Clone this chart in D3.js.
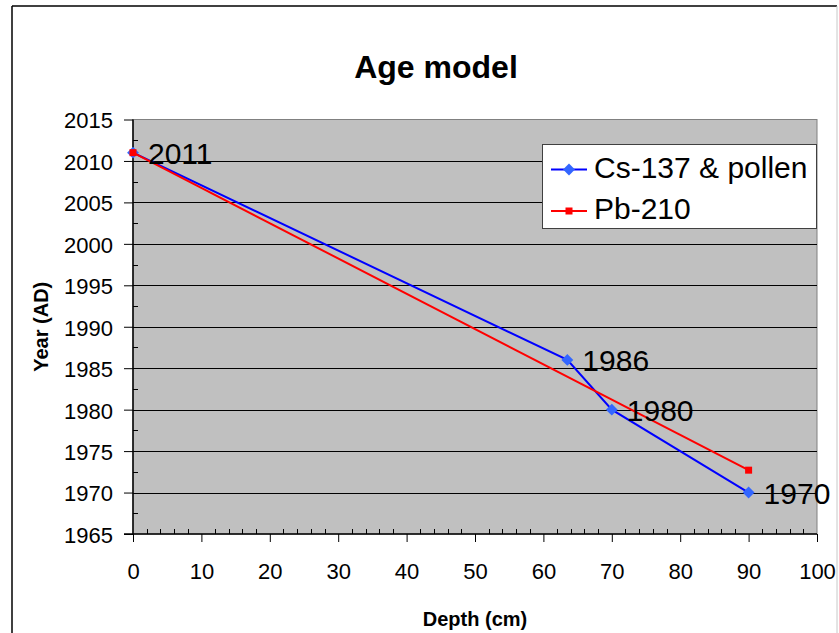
<!DOCTYPE html>
<head>
<meta charset="utf-8">
<title>Age model</title>
<style>
html, body { margin:0; padding:0; background-color:#fff; overflow:hidden; }
svg { display:block; }
text { font-family: "Liberation Sans", Arial, sans-serif; fill:#000; }
</style>
</head>
<body>
<svg id="stage" width="839" height="633"></svg>

<script src="https://d3js.org/d3.v7.min.js"></script>
<script>

// depth (cm) vs year (AD)
var csDepth = [0, 63.5, 70, 90],
    csYear  = [2011, 1986, 1980, 1970],
    csLabels = ["2011", "1986", "1980", "1970"];

var pbDepth = [0, 90],
    pbYear  = [2011, 1972.7];

var seriesNames = ["Cs-137 & pollen", "Pb-210"];

var xTicks = [0, 10, 20, 30, 40, 50, 60, 70, 80, 90, 100],
    yTicks = [1965, 1970, 1975, 1980, 1985, 1990, 1995, 2000, 2005, 2010, 2015];

var svg = d3.select("#stage");

// chart frame
svg.append("line").attr("x1", 12).attr("y1", 6).attr("x2", 837).attr("y2", 6)
  .attr("stroke", "#000").attr("stroke-width", 1.5);
svg.append("line").attr("x1", 12).attr("y1", 6).attr("x2", 12).attr("y2", 640)
  .attr("stroke", "#000").attr("stroke-width", 1.5);
svg.append("line").attr("x1", 837).attr("y1", 6).attr("x2", 837).attr("y2", 640)
  .attr("stroke", "#c8c8c8").attr("stroke-width", 1);

var pLeft = 133, pRight = 817, pTop = 119.5, pBottom = 534;

var x = d3.scaleLinear().domain([0, 100]).range([pLeft, pRight]);
var y = d3.scaleLinear().domain([1965, 2015]).range([pBottom, pTop]);

// plot area
svg.append("rect")
  .attr("x", pLeft).attr("y", pTop)
  .attr("width", pRight - pLeft).attr("height", pBottom - pTop)
  .attr("fill", "#c0c0c0").attr("stroke", "#808080").attr("stroke-width", 1);

// gridlines
svg.append("g").selectAll("line")
  .data(yTicks.slice(1, -1))
  .enter().append("line")
    .attr("x1", pLeft).attr("x2", pRight)
    .attr("y1", function(d) { return Math.round(y(d)) + 0.5; })
    .attr("y2", function(d) { return Math.round(y(d)) + 0.5; })
    .attr("stroke", "#000").attr("stroke-width", 1);

// minor ticks (inside)
var yMinor = d3.range(1967.5, 2015, 5);
svg.append("g").selectAll("line")
  .data(yMinor).enter().append("line")
    .attr("x1", pLeft).attr("x2", pLeft + 5)
    .attr("y1", function(d) { return Math.round(y(d)) + 0.5; })
    .attr("y2", function(d) { return Math.round(y(d)) + 0.5; })
    .attr("stroke", "#000");

var xMinor = d3.range(2, 100, 2).filter(function(d) { return d % 10 != 0; });
svg.append("g").selectAll("line")
  .data(xMinor).enter().append("line")
    .attr("x1", function(d) { return Math.round(x(d)) + 0.5; })
    .attr("x2", function(d) { return Math.round(x(d)) + 0.5; })
    .attr("y1", pBottom).attr("y2", pBottom - 5)
    .attr("stroke", "#000");

// axes
var yAxis = d3.axisLeft(y).tickValues(yTicks).tickSize(9).tickPadding(11)
  .tickFormat(d3.format("d"));
var gy = svg.append("g").attr("transform", "translate(" + pLeft + ",0)").call(yAxis);

var xAxis = d3.axisBottom(x).tickValues(xTicks).tickSize(8).tickPadding(21)
  .tickFormat(d3.format("d"));
var gx = svg.append("g").attr("transform", "translate(0," + pBottom + ")").call(xAxis);

[gx, gy].forEach(function(g) {
  g.attr("font-size", null).attr("font-family", null);
  g.select(".domain").attr("stroke", "#000").attr("stroke-width", 1.5);
  g.selectAll(".tick line").attr("stroke", "#000");
  g.selectAll(".tick text")
    .style("font-size", "22px").attr("fill", "#000");
});
gx.select(".domain").attr("d", "M" + (pLeft - 9) + ",0H" + pRight);
gy.select(".domain").attr("d", "M0," + pBottom + "V" + pTop);
gx.selectAll(".tick text").attr("dy", "0.72em");
gy.selectAll(".tick text").attr("dy", "0.38em");

// titles
svg.append("text")
  .attr("x", 436).attr("y", 78)
  .attr("text-anchor", "middle")
  .style("font-size", "32px").style("font-weight", "bold")
  .text("Age model");

svg.append("text")
  .attr("x", (pLeft + pRight) / 2).attr("y", 626)
  .attr("text-anchor", "middle")
  .style("font-size", "20px").style("font-weight", "bold")
  .text("Depth (cm)");

svg.append("text")
  .attr("transform", "translate(48," + (pTop + pBottom) / 2 + ") rotate(-90)")
  .attr("text-anchor", "middle")
  .style("font-size", "20px").style("font-weight", "bold")
  .text("Year (AD)");

// series
var line = d3.line()
  .x(function(d) { return x(d[0]); })
  .y(function(d) { return y(d[1]); });

var cs = d3.zip(csDepth, csYear),
    pb = d3.zip(pbDepth, pbYear);

svg.append("path").datum(cs)
  .attr("d", line).attr("fill", "none")
  .attr("stroke", "#0000ff").attr("stroke-width", 2);

svg.append("g").selectAll("path")
  .data(cs).enter().append("path")
    .attr("d", d3.symbol().type(d3.symbolDiamond2).size(90))
    .attr("transform", function(d) { return "translate(" + x(d[0]) + "," + y(d[1]) + ")"; })
    .attr("fill", "#3366ff");

svg.append("path").datum(pb)
  .attr("d", line).attr("fill", "none")
  .attr("stroke", "#ff0000").attr("stroke-width", 2);

svg.append("g").selectAll("rect")
  .data(pb).enter().append("rect")
    .attr("x", function(d) { return x(d[0]) - 3.5; })
    .attr("y", function(d) { return y(d[1]) - 3.5; })
    .attr("width", 7).attr("height", 7)
    .attr("fill", "#ff0000");

// data labels
svg.append("g").selectAll("text")
  .data(cs).enter().append("text")
    .attr("x", function(d) { return x(d[0]) + 15; })
    .attr("y", function(d) { return y(d[1]) + 11; })
    .style("font-size", "30px")
    .text(function(d, i) { return csLabels[i]; });

// legend
var lg = svg.append("g");
lg.append("rect")
  .attr("x", 542.5).attr("y", 144.5).attr("width", 274).attr("height", 84)
  .attr("fill", "#fff").attr("stroke", "#404040").attr("stroke-width", 1);

var legendColors = ["#0000ff", "#ff0000"],
    markerColors = ["#3366ff", "#ff0000"];

seriesNames.forEach(function(name, i) {
  var ly = 169.5 + i * 41.5;
  lg.append("line").attr("x1", 551).attr("x2", 587).attr("y1", ly).attr("y2", ly)
    .attr("stroke", legendColors[i]).attr("stroke-width", 2);
  if (i == 0) {
    lg.append("path").attr("d", d3.symbol().type(d3.symbolDiamond2).size(90))
      .attr("transform", "translate(569," + ly + ")").attr("fill", markerColors[i]);
  } else {
    lg.append("rect").attr("x", 565.5).attr("y", ly - 3.5).attr("width", 7).attr("height", 7)
      .attr("fill", markerColors[i]);
  }
  lg.append("text").attr("x", 594).attr("y", ly + 8)
    .style("font-size", "30px").text(name);
});

</script>
</body>
</html>
